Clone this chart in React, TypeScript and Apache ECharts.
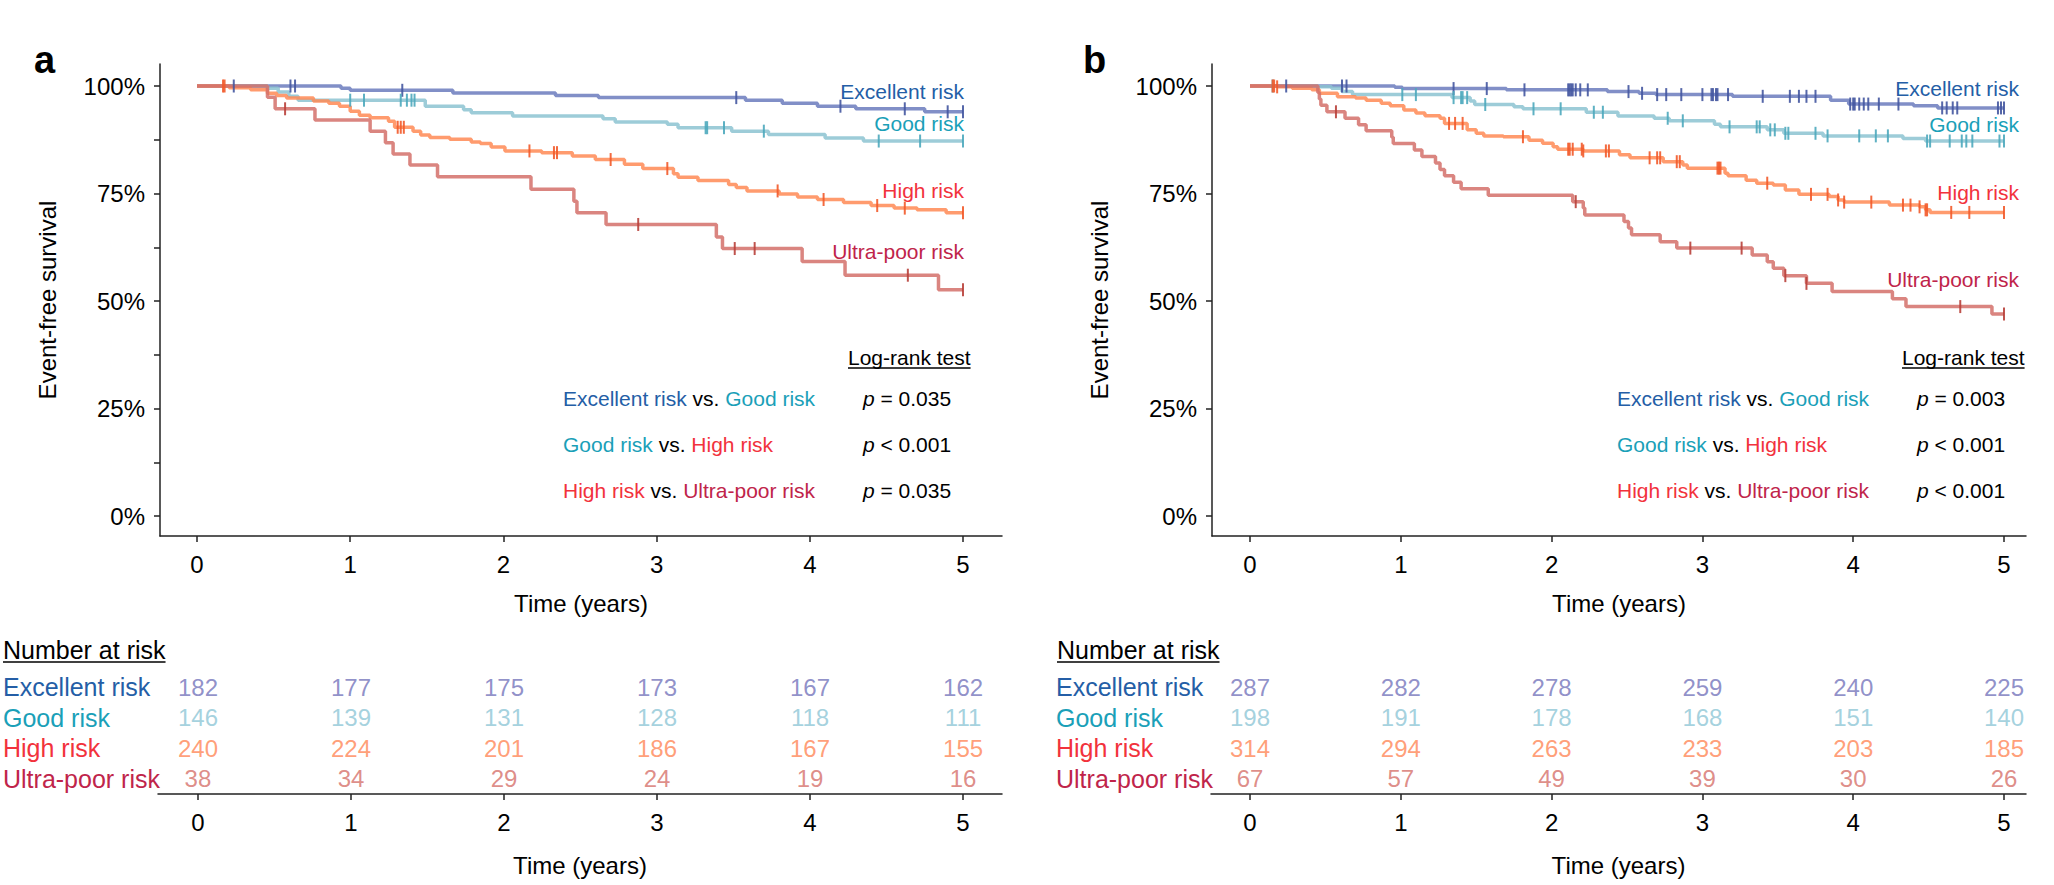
import React, { useEffect, useRef } from "react";
import * as echarts from "echarts";

const FONT = "'Liberation Sans', Arial, Helvetica, sans-serif";

// ---------------- data ----------------
const groupNames = ["Excellent risk", "Good risk", "High risk", "Ultra-poor risk"];
const yearTicks = [0, 1, 2, 3, 4, 5];
const survivalTicks = [0, 0.25, 0.5, 0.75, 1];
const survivalMinorTicks = [0, 0.125, 0.25, 0.375, 0.5, 0.625, 0.75, 0.875, 1];
const xAxisTitle = "Time (years)";
const yAxisTitle = "Event-free survival";
const logRankTitle = "Log-rank test";
const atRiskTitle = "Number at risk";
const comparisonPairs = [[0, 1], [1, 2], [2, 3]];

// Panel a — Kaplan–Meier steps (event times, survival after event) and censor times
const aExcTimes = [0, 0.94, 1.0, 1.67, 2.34, 2.62, 3.58, 3.82, 4.05, 4.3, 4.75];
const aExcSurv = [1, 0.995, 0.99, 0.984, 0.978, 0.973, 0.967, 0.96, 0.953, 0.947, 0.94];
const aExcCensor = [0.24, 0.61, 0.64, 1.34, 3.52, 4.2, 4.62, 4.9, 5.0];

const aGoodTimes = [0, 0.46, 0.53, 0.6, 0.66, 1.49, 1.74, 1.79, 2.06, 2.65, 2.73, 3.07, 3.14, 3.49, 3.73, 4.1, 4.35];
const aGoodSurv = [1, 0.995, 0.986, 0.976, 0.967, 0.953, 0.945, 0.938, 0.93, 0.924, 0.916, 0.911, 0.903, 0.895, 0.887, 0.879, 0.872];
const aGoodCensor = [1.0, 1.09, 1.33, 1.37, 1.4, 1.42, 3.32, 3.33, 3.44, 3.7, 4.45, 4.72, 5.0];

const aHighTimes = [0, 0.21, 0.35, 0.46, 0.52, 0.585, 0.76, 0.86, 0.93, 1.0, 1.06, 1.13, 1.25, 1.29, 1.41, 1.46, 1.52, 1.65, 1.79, 1.85, 1.92, 2.01, 2.25, 2.45, 2.6, 2.79, 2.91, 3.11, 3.14, 3.27, 3.47, 3.52, 3.59, 3.8, 3.92, 4.05, 4.22, 4.4, 4.55, 4.7, 4.89];
const aHighSurv = [1, 0.996, 0.991, 0.983, 0.978, 0.972, 0.965, 0.96, 0.953, 0.941, 0.932, 0.926, 0.918, 0.904, 0.895, 0.886, 0.88, 0.876, 0.87, 0.866, 0.858, 0.849, 0.845, 0.837, 0.829, 0.818, 0.808, 0.796, 0.788, 0.78, 0.771, 0.764, 0.756, 0.749, 0.742, 0.736, 0.729, 0.722, 0.716, 0.712, 0.705];
const aHighCensor = [0.17, 0.18, 1.31, 1.33, 1.35, 2.17, 2.33, 2.35, 2.7, 3.07, 3.79, 4.09, 4.44, 4.62, 5.0];

const aUltraTimes = [0, 0.46, 0.51, 0.77, 1.13, 1.23, 1.28, 1.39, 1.57, 2.18, 2.46, 2.48, 2.67, 3.39, 3.43, 3.95, 4.23, 4.84];
const aUltraSurv = [1, 0.974, 0.947, 0.921, 0.895, 0.868, 0.842, 0.816, 0.789, 0.76, 0.732, 0.705, 0.678, 0.649, 0.622, 0.592, 0.56, 0.526];
const aUltraCensor = [0.575, 2.88, 3.51, 3.64, 4.64, 5.0];

// Panel b
const bExcTimes = [0, 0.96, 1.01, 1.7, 2.37, 2.58, 2.69, 3.2, 3.85, 3.97, 4.4, 4.56];
const bExcSurv = [1, 0.997, 0.994, 0.991, 0.987, 0.983, 0.98, 0.976, 0.967, 0.958, 0.954, 0.949];
const bExcCensor = [0.24, 0.61, 0.64, 1.35, 1.57, 1.82, 2.11, 2.12, 2.13, 2.14, 2.16, 2.19, 2.24, 2.51, 2.6, 2.7, 2.76, 2.86, 3.0, 3.06, 3.07, 3.09, 3.1, 3.17, 3.4, 3.58, 3.64, 3.69, 3.75, 3.98, 4.0, 4.01, 4.04, 4.07, 4.1, 4.17, 4.3, 4.59, 4.62, 4.66, 4.69, 4.96, 4.98, 5.0];

const bGoodTimes = [0, 0.45, 0.54, 0.61, 0.68, 1.34, 1.46, 1.49, 1.75, 1.81, 2.23, 2.44, 2.68, 2.78, 3.08, 3.12, 3.43, 3.54, 3.8, 4.33, 4.48];
const bGoodSurv = [1, 0.998, 0.995, 0.987, 0.98, 0.973, 0.965, 0.957, 0.952, 0.947, 0.939, 0.93, 0.925, 0.919, 0.911, 0.905, 0.898, 0.89, 0.884, 0.878, 0.872];
const bGoodCensor = [0.15, 1.01, 1.1, 1.35, 1.4, 1.41, 1.44, 1.56, 1.88, 2.06, 2.28, 2.34, 2.77, 2.87, 3.18, 3.36, 3.38, 3.45, 3.48, 3.55, 3.57, 3.75, 3.83, 4.04, 4.15, 4.23, 4.49, 4.51, 4.64, 4.72, 4.75, 4.79, 4.97, 5.0];

const bHighTimes = [0, 0.18, 0.28, 0.41, 0.46, 0.58, 0.7, 0.77, 0.87, 0.93, 1.02, 1.1, 1.16, 1.26, 1.29, 1.44, 1.5, 1.55, 1.68, 1.85, 1.94, 2.01, 2.04, 2.21, 2.45, 2.52, 2.74, 2.87, 2.9, 3.15, 3.17, 3.29, 3.36, 3.47, 3.55, 3.64, 3.84, 3.9, 3.94, 4.24, 4.44, 4.48, 4.51];
const bHighSurv = [1, 0.998, 0.995, 0.991, 0.983, 0.975, 0.972, 0.967, 0.96, 0.954, 0.944, 0.937, 0.931, 0.925, 0.913, 0.898, 0.89, 0.884, 0.882, 0.874, 0.867, 0.859, 0.853, 0.849, 0.84, 0.833, 0.824, 0.816, 0.809, 0.797, 0.791, 0.781, 0.774, 0.77, 0.758, 0.748, 0.743, 0.735, 0.73, 0.723, 0.719, 0.712, 0.706];
const bHighCensor = [0.15, 0.16, 0.18, 1.32, 1.36, 1.41, 1.81, 2.11, 2.12, 2.14, 2.2, 2.21, 2.36, 2.38, 2.65, 2.7, 2.72, 2.83, 2.85, 3.1, 3.11, 3.12, 3.43, 3.72, 3.83, 3.9, 3.94, 4.12, 4.33, 4.38, 4.44, 4.48, 4.49, 4.65, 4.77, 5.0];

const bUltraTimes = [0, 0.45, 0.46, 0.47, 0.51, 0.63, 0.72, 0.77, 0.94, 0.95, 1.09, 1.14, 1.23, 1.26, 1.29, 1.35, 1.4, 1.58, 2.14, 2.21, 2.22, 2.48, 2.51, 2.53, 2.72, 2.83, 3.33, 3.43, 3.47, 3.54, 3.69, 3.86, 4.26, 4.35, 4.92];
const bUltraSurv = [1, 0.985, 0.97, 0.955, 0.94, 0.925, 0.91, 0.896, 0.881, 0.866, 0.851, 0.836, 0.821, 0.806, 0.791, 0.776, 0.761, 0.746, 0.731, 0.716, 0.7, 0.685, 0.67, 0.654, 0.638, 0.623, 0.607, 0.591, 0.576, 0.559, 0.541, 0.522, 0.505, 0.487, 0.47];
const bUltraCensor = [0.57, 2.16, 2.92, 3.26, 3.55, 3.69, 4.71, 5.0];

// Numbers at risk at years 0..5
const aExcAtRisk = [182, 177, 175, 173, 167, 162];
const aGoodAtRisk = [146, 139, 131, 128, 118, 111];
const aHighAtRisk = [240, 224, 201, 186, 167, 155];
const aUltraAtRisk = [38, 34, 29, 24, 19, 16];
const bExcAtRisk = [287, 282, 278, 259, 240, 225];
const bGoodAtRisk = [198, 191, 178, 168, 151, 140];
const bHighAtRisk = [314, 294, 263, 233, 203, 185];
const bUltraAtRisk = [67, 57, 49, 39, 30, 26];

// Log-rank p values
const aPOps = ["=", "<", "="];
const aPValues = ["0.035", "0.001", "0.035"];
const bPOps = ["=", "<", "<"];
const bPValues = ["0.003", "0.001", "0.001"];

// ---------------- styles & layout ----------------
const lineColors = ["#6b7bbd", "#8cc3d1", "#ff8a55", "#d4706a"];
const censorColors = ["#4457a0", "#4da8bd", "#f25a2a", "#b8403a"];
const textColors = ["#245ea6", "#1aa0b8", "#f2323c", "#c0244a"];
const numberColors = ["#7474bb", "#8ec6d6", "#ff8656", "#d6706a"];

const Y_MIN = -20 / 430;
const Y_MAX = 1 + 22 / 430;

const panels = [
  {
    letter: "a",
    letterX: 34,
    plot: { left: 160, top: 64, width: 842, height: 472 },
    table: { left: 157, top: 672, width: 845, height: 122 },
    zeroX: 197,
    yearPx: 153.2,
    minor: true,
    labelRight: 964,
    labelYs: [91, 123, 190, 251],
    compX: 563,
    pX: 863,
    logRankX: 848,
    atRiskX: 2,
    curves: [
      { times: aExcTimes, surv: aExcSurv, censor: aExcCensor },
      { times: aGoodTimes, surv: aGoodSurv, censor: aGoodCensor },
      { times: aHighTimes, surv: aHighSurv, censor: aHighCensor },
      { times: aUltraTimes, surv: aUltraSurv, censor: aUltraCensor },
    ],
    atRisk: [aExcAtRisk, aGoodAtRisk, aHighAtRisk, aUltraAtRisk],
    pOps: aPOps,
    pValues: aPValues,
  },
  {
    letter: "b",
    letterX: 1083,
    plot: { left: 1212, top: 64, width: 814, height: 472 },
    table: { left: 1211, top: 672, width: 815, height: 122 },
    zeroX: 1250,
    yearPx: 150.8,
    minor: false,
    labelRight: 2019,
    labelYs: [88, 124, 192, 279],
    compX: 1617,
    pX: 1917,
    logRankX: 1902,
    atRiskX: 1056,
    curves: [
      { times: bExcTimes, surv: bExcSurv, censor: bExcCensor },
      { times: bGoodTimes, surv: bGoodSurv, censor: bGoodCensor },
      { times: bHighTimes, surv: bHighSurv, censor: bHighCensor },
      { times: bUltraTimes, surv: bUltraSurv, censor: bUltraCensor },
    ],
    atRisk: [bExcAtRisk, bGoodAtRisk, bHighAtRisk, bUltraAtRisk],
    pOps: bPOps,
    pValues: bPValues,
  },
];

const COMP_YS = [398, 444, 490];
const LOGRANK_Y = 357;
const ATRISK_Y = 650;

function survAt(times: number[], surv: number[], t: number) {
  let s = surv[0];
  for (let i = 0; i < times.length; i++) if (times[i] <= t + 1e-9) s = surv[i];
  return s;
}

function textWidth(text: string, size: number) {
  const ctx = document.createElement("canvas").getContext("2d");
  if (!ctx) return text.length * size * 0.5;
  ctx.font = `${size}px ${FONT}`;
  return ctx.measureText(text).width;
}

function buildOption() {
  const grid: any[] = [];
  const xAxis: any[] = [];
  const yAxis: any[] = [];
  const series: any[] = [];
  const graphic: any[] = [];

  const axisLineStyle = { color: "#222", width: 1.5 };
  const labelStyle = { fontSize: 24, color: "#000", fontFamily: FONT };

  // main grids (0,1)
  panels.forEach((p, pi) => {
    grid.push({ ...p.plot, containLabel: false });
    xAxis.push({
      type: "value",
      gridIndex: pi,
      min: (p.plot.left - p.zeroX) / p.yearPx,
      max: (p.plot.left + p.plot.width - p.zeroX) / p.yearPx,
      axisLine: { show: true, onZero: false, lineStyle: axisLineStyle },
      axisTick: { show: true, customValues: yearTicks, length: 6, lineStyle: axisLineStyle },
      axisLabel: { customValues: yearTicks, margin: 16, ...labelStyle },
      splitLine: { show: false },
      name: xAxisTitle,
      nameLocation: "middle",
      nameGap: 55,
      nameTextStyle: labelStyle,
    });
    yAxis.push({
      type: "value",
      gridIndex: pi,
      min: Y_MIN,
      max: Y_MAX,
      axisLine: { show: true, onZero: false, lineStyle: axisLineStyle },
      axisTick: { show: true, customValues: p.minor ? survivalMinorTicks : survivalTicks, length: 6, lineStyle: axisLineStyle },
      axisLabel: {
        customValues: survivalTicks,
        formatter: (v: number) => `${Math.round(v * 100)}%`,
        margin: 15,
        ...labelStyle,
      },
      splitLine: { show: false },
      name: yAxisTitle,
      nameLocation: "middle",
      nameRotate: 90,
      nameGap: 101,
      nameTextStyle: labelStyle,
    });
  });
  // table grids (2,3)
  panels.forEach((p, pi) => {
    grid.push({ ...p.table, containLabel: false });
    xAxis.push({
      type: "value",
      gridIndex: 2 + pi,
      min: (p.table.left - p.zeroX) / p.yearPx,
      max: (p.plot.left + p.plot.width - p.zeroX) / p.yearPx,
      axisLine: { show: true, onZero: false, lineStyle: axisLineStyle },
      axisTick: { show: true, customValues: yearTicks, length: 6, lineStyle: axisLineStyle },
      axisLabel: { customValues: yearTicks, margin: 16, ...labelStyle },
      splitLine: { show: false },
      name: xAxisTitle,
      nameLocation: "middle",
      nameGap: 59,
      nameTextStyle: labelStyle,
    });
    yAxis.push({
      type: "category",
      gridIndex: 2 + pi,
      data: groupNames,
      inverse: true,
      axisLine: { show: false },
      axisTick: { show: false },
      splitLine: { show: false },
      axisLabel: {
        interval: 0,
        align: "left",
        margin: p.table.left - p.atRiskX,
        fontSize: 25,
        fontFamily: FONT,
        color: (v: string) => textColors[groupNames.indexOf(v)],
      },
    });
  });

  panels.forEach((p, pi) => {
    p.curves.forEach((c, g) => {
      const end = Math.max(c.times[c.times.length - 1], ...c.censor);
      const data = c.times.map((t, i) => [t, c.surv[i]]);
      data.push([end, c.surv[c.surv.length - 1]]);
      series.push({
        type: "line",
        xAxisIndex: pi,
        yAxisIndex: pi,
        step: "end",
        data,
        showSymbol: false,
        silent: true,
        z: 2 + g,
        lineStyle: { color: lineColors[g], width: 3.5, opacity: 0.85 },
      });
      series.push({
        type: "scatter",
        xAxisIndex: pi,
        yAxisIndex: pi,
        symbol: "rect",
        symbolSize: [2, 13],
        silent: true,
        z: 10,
        itemStyle: { color: censorColors[g], opacity: 0.9 },
        data: c.censor.map((t) => [t, survAt(c.times, c.surv, t)]),
      });
    });
    p.atRisk.forEach((row, g) => {
      series.push({
        type: "scatter",
        xAxisIndex: 2 + pi,
        yAxisIndex: 2 + pi,
        symbol: "circle",
        symbolSize: 1,
        silent: true,
        itemStyle: { color: "rgba(0,0,0,0)" },
        label: {
          show: true,
          position: "inside",
          formatter: (q: any) => String(q.value[2]),
          color: numberColors[g],
          fontSize: 24,
          fontFamily: FONT,
        },
        data: yearTicks.map((t, i) => [t, groupNames[g], row[i]]),
      });
    });

    // panel letter
    graphic.push({
      type: "text",
      x: p.letterX,
      y: 60,
      style: { text: p.letter, fontSize: 38, fontWeight: "bold", fontFamily: FONT, fill: "#000", verticalAlign: "middle" },
    });
    // curve labels
    groupNames.forEach((name, g) => {
      graphic.push({
        type: "text",
        x: p.labelRight,
        y: p.labelYs[g],
        style: { text: name, fontSize: 21, fontFamily: FONT, fill: textColors[g], align: "right", verticalAlign: "middle" },
      });
    });
    // log-rank block
    const lrw = textWidth(logRankTitle, 21);
    graphic.push({
      type: "text",
      x: p.logRankX,
      y: LOGRANK_Y,
      style: { text: logRankTitle, fontSize: 21, fontFamily: FONT, fill: "#000", verticalAlign: "middle" },
    });
    graphic.push({
      type: "line",
      shape: { x1: p.logRankX, y1: LOGRANK_Y + 11, x2: p.logRankX + lrw, y2: LOGRANK_Y + 11 },
      style: { stroke: "#000", lineWidth: 1.3 },
    });
    const rich: any = { k: { fill: "#000", fontSize: 21, fontFamily: FONT } };
    groupNames.forEach((_, g) => {
      rich["g" + g] = { fill: textColors[g], fontSize: 21, fontFamily: FONT };
    });
    comparisonPairs.forEach(([a, b], r) => {
      graphic.push({
        type: "text",
        x: p.compX,
        y: COMP_YS[r],
        style: {
          text: `{g${a}|${groupNames[a]}}{k| vs. }{g${b}|${groupNames[b]}}`,
          rich,
          fontSize: 21,
          fontFamily: FONT,
          verticalAlign: "middle",
        },
      });
      graphic.push({
        type: "text",
        x: p.pX,
        y: COMP_YS[r],
        style: {
          text: `{i|p}{k| ${p.pOps[r]} ${p.pValues[r]}}`,
          rich: {
            i: { fill: "#000", fontSize: 21, fontFamily: FONT, fontStyle: "italic" },
            k: { fill: "#000", fontSize: 21, fontFamily: FONT },
          },
          fontSize: 21,
          fontFamily: FONT,
          verticalAlign: "middle",
        },
      });
    });
    // number at risk title
    const arw = textWidth(atRiskTitle, 25);
    graphic.push({
      type: "text",
      x: p.atRiskX + 1,
      y: ATRISK_Y,
      style: { text: atRiskTitle, fontSize: 25, fontFamily: FONT, fill: "#000", verticalAlign: "middle" },
    });
    graphic.push({
      type: "line",
      shape: { x1: p.atRiskX + 1, y1: ATRISK_Y + 12, x2: p.atRiskX + 1 + arw, y2: ATRISK_Y + 12 },
      style: { stroke: "#000", lineWidth: 1.3 },
    });
  });

  return {
    animation: false,
    backgroundColor: "#ffffff",
    grid,
    xAxis,
    yAxis,
    series,
    graphic,
  };
}

export default function App() {
  const ref = useRef<HTMLDivElement>(null);
  useEffect(() => {
    if (!ref.current) return;
    const chart = echarts.init(ref.current, undefined, { renderer: "svg" });
    chart.setOption(buildOption() as any);
    return () => chart.dispose();
  }, []);
  return (
    <div
      ref={ref}
      style={{ position: "absolute", left: 0, top: 0, width: 2054, height: 885, background: "#fff" }}
    />
  );
}
